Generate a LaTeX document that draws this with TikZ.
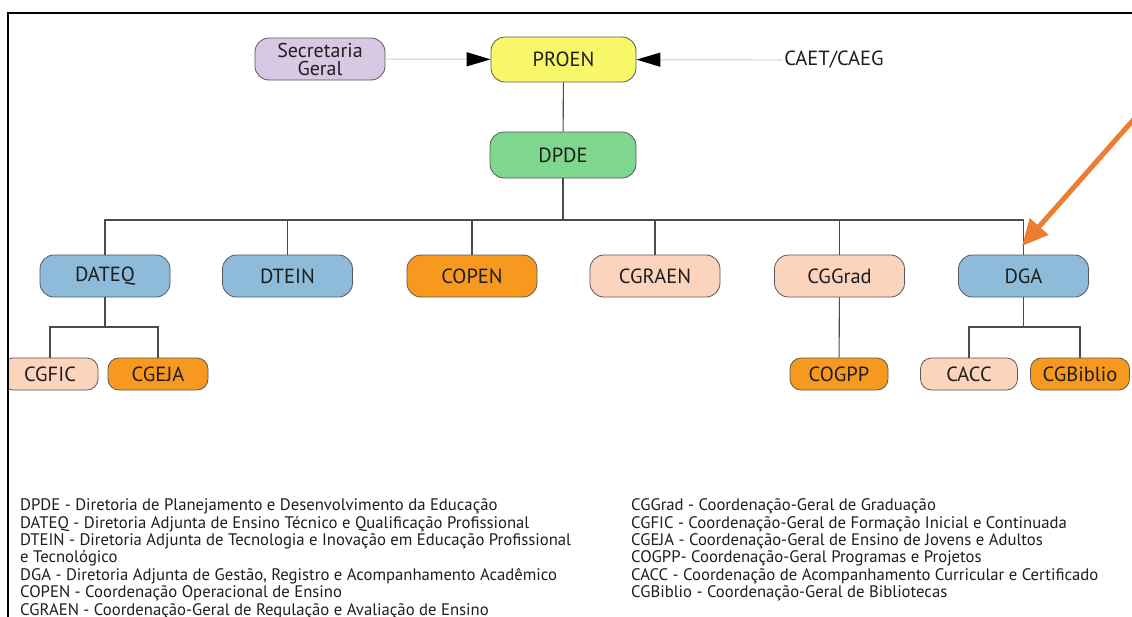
\documentclass[tikz,border=0pt]{standalone}
\usepackage{fontspec}
\setmainfont{PT Sans}
\usetikzlibrary{arrows.meta}
\definecolor{lav}{RGB}{216,200,228}
\definecolor{yel}{RGB}{248,247,106}
\definecolor{grn}{RGB}{126,214,143}
\definecolor{blu}{RGB}{141,187,217}
\definecolor{org}{RGB}{247,153,30}
\definecolor{pch}{RGB}{252,211,188}
\definecolor{arr}{RGB}{237,125,49}
\definecolor{txt}{RGB}{30,30,30}
\tikzset{
  box/.style={draw=black!65, line width=0.8pt, rounded corners=14pt, minimum width=130pt, minimum height=42pt, inner sep=0pt, text=txt, font=\fontsize{20.5}{18}\selectfont},
  sbox/.style={box, rounded corners=11pt, minimum height=32pt},
  conn/.style={draw=black!70, line width=1.1pt},
  feed/.style={draw=black!15, line width=1.2pt, -{Triangle[length=24pt,width=14pt,color=black]}},
  legend/.style={anchor=north west, inner sep=0pt, align=left, text=txt, font=\fontsize{16.7}{17.4}\selectfont}
}
\begin{document}
\begin{tikzpicture}[x=1pt,y=-1pt]
\useasboundingbox (0,0) rectangle (1132,616);
\fill[white] (0,0) rectangle (1132,616);
% top
\node[box, fill=lav, align=center, font=\fontsize{20}{18}\selectfont] (sg) at (320,59) {Secretaria\\Geral};
\node[box, fill=yel, minimum width=145pt, minimum height=45pt] (proen) at (563.5,59.5) {PROEN};
\node[text=txt, font=\fontsize{20.5}{18}\selectfont, inner sep=2pt] (caet) at (834,60) {CAET/CAEG};
\node[box, fill=grn, minimum width=146pt, minimum height=46pt] (dpde) at (563,155) {DPDE};
\draw[feed] (sg) -- (proen);
\draw[feed] (caet) -- (proen);
\draw[conn] (proen) -- (dpde);
% row 2
\node[box, fill=blu] (dateq) at (105,276) {DATEQ};
\node[box, fill=blu] (dtein) at (287.5,276) {DTEIN};
\node[box, fill=org] (copen) at (472,276) {COPEN};
\node[box, fill=pch] (cgraen) at (655,276) {CGRAEN};
\node[box, fill=pch] (cggrad) at (839.5,276) {CGGrad};
\node[box, fill=blu] (dga) at (1023.5,276) {DGA};
\coordinate (bus) at (563,220);
\draw[conn] (dpde) -- (bus);
\draw[conn] (dateq.north) |- (bus) -| (dga.north);
\draw[conn] (dtein.north) -- (dtein.north |- bus);
\draw[conn] (copen.north) -- (copen.north |- bus);
\draw[conn] (cgraen.north) -- (cgraen.north |- bus);
\draw[conn] (cggrad.north) -- (cggrad.north |- bus);
% row 3
\node[sbox, fill=pch, minimum width=96pt] (cgfic) at (50,374) {CGFIC};
\node[sbox, fill=org, minimum width=100pt] (cgeja) at (158,374) {CGEJA};
\node[sbox, fill=org, minimum width=98pt] (cogpp) at (839,374) {COGPP};
\node[sbox, fill=pch, minimum width=97pt] (cacc) at (969,374) {CACC};
\node[sbox, fill=org, minimum width=99pt] (cgbib) at (1080,374) {CGBiblio};
\coordinate (sb1) at (105,327);
\coordinate (sb2) at (1023.5,327);
\draw[conn] (dateq) -- (sb1);
\draw[conn] (cgfic.north) |- (sb1) -| (cgeja.north);
\draw[conn] (cggrad) -- (cogpp);
\draw[conn] (dga) -- (sb2);
\draw[conn] (cacc.north) |- (sb2) -| (cgbib.north);
% orange arrow
\coordinate (oa) at (1142,110);
\coordinate (oat) at (1022,246);
\draw[arr, line width=5pt, -{Triangle[length=26pt,width=24pt]}] (oa) -- (oat);
% legend
\node[legend] (legl) at (20,498.5) {DPDE - Diretoria de Planejamento e Desenvolvimento da Educação\\
DATEQ - Diretoria Adjunta de Ensino Técnico e Qualificação Profissional\\
DTEIN - Diretoria Adjunta de Tecnologia e Inovação em Educação Profissional\\
e Tecnológico\\
DGA - Diretoria Adjunta de Gestão, Registro e Acompanhamento Acadêmico\\
COPEN - Coordenação Operacional de Ensino\\
CGRAEN - Coordenação-Geral de Regulação e Avaliação de Ensino};
\node[legend] (legr) at (631,498.5) {CGGrad - Coordenação-Geral de Graduação\\
CGFIC - Coordenação-Geral de Formação Inicial e Continuada\\
CGEJA - Coordenação-Geral de Ensino de Jovens e Adultos\\
COGPP- Coordenação-Geral Programas e Projetos\\
CACC - Coordenação de Acompanhamento Curricular e Certificado\\
CGBiblio - Coordenação-Geral de Bibliotecas};
% frame
\fill[white] (0,0) rectangle (7,616);
\draw[black, line width=2.2pt] (8,617) -- (8,13) -- (1133,13);
\end{tikzpicture}
\end{document}
